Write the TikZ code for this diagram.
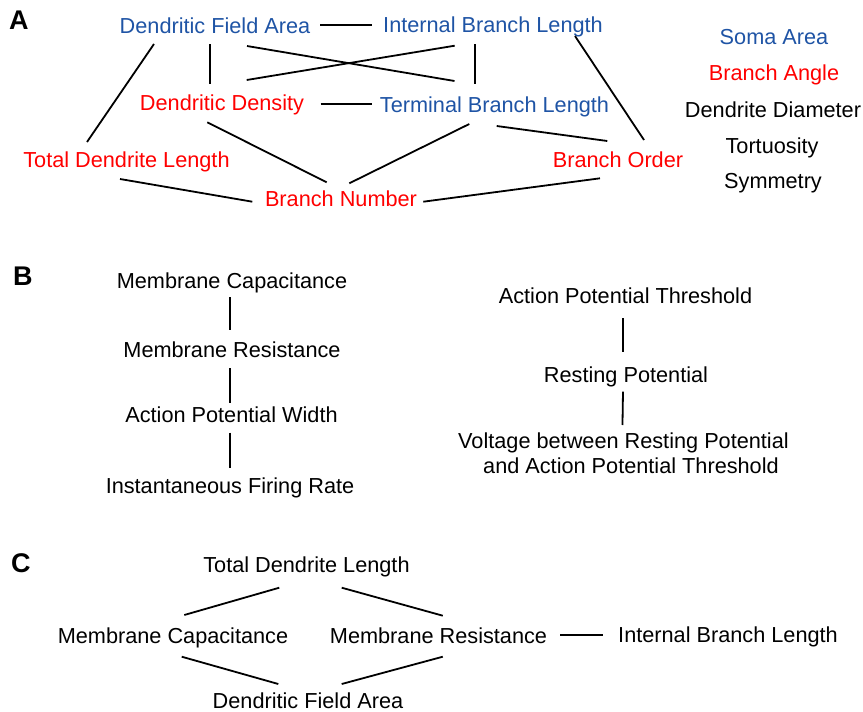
\documentclass[tikz,border=0pt]{standalone}
\usepackage{fontspec}
\setmainfont{Liberation Sans}
\definecolor{tblue}{RGB}{31,84,165}
\definecolor{tred}{RGB}{255,0,0}
\begin{document}
\begin{tikzpicture}[x=1pt,y=-1pt,
  lbl/.style={inner sep=0pt, anchor=base, font=\fontsize{21.7}{25}\selectfont},
  bl/.style={lbl,text=tblue},
  rd/.style={lbl,text=tred},
  bk/.style={lbl,text=black},
  panel/.style={inner sep=0pt, anchor=base west, font=\fontsize{27}{30}\selectfont\bfseries},
  link/.style={line width=1.8pt, black}]
\useasboundingbox (0,0) rectangle (863,712);
% ---------- Panel A ----------
\node[panel] (labA) at (9,30) {A};
\node[bl] (dfa) at (215,33) {Dendritic Field Area};
\node[bl] (ibl) at (493,32) {Internal Branch Length};
\node[bl] (soma) at (774,44) {Soma Area};
\node[rd] (angle) at (774,80) {Branch Angle};
\node[bk] (diam) at (773,117) {Dendrite Diameter};
\node[bk] (tort) at (772,153) {Tortuosity};
\node[bk] (sym) at (773,188) {Symmetry};
\node[rd] (dd) at (222,110) {Dendritic Density};
\node[bl] (tbl) at (494.5,112) {Terminal Branch Length};
\node[rd] (tdl) at (126.5,167) {Total Dendrite Length};
\node[rd] (bo) at (618,167) {Branch Order};
\node[rd] (bn) at (341,206) {Branch Number};

\draw[link] ([shift={(105,-8)}]dfa.base) -- ([shift={(-121,-7)}]ibl.base);
\draw[link] ([shift={(-61,11)}]dfa.base) -- ([shift={(-39.5,-25)}]tdl.base);
\draw[link] ([shift={(-5,11)}]dfa.base) -- ([shift={(-12,-26)}]dd.base);
\draw[link] ([shift={(32,13)}]dfa.base) -- ([shift={(-40,-31)}]tbl.base);
\draw[link] ([shift={(24.7,-30)}]dd.base) -- ([shift={(-38.3,13.7)}]ibl.base);
\draw[link] ([shift={(-18,12.3)}]ibl.base) -- ([shift={(-19.5,-28)}]tbl.base);
\draw[link] ([shift={(98.7,-5.7)}]dd.base) -- ([shift={(-122.8,-7.7)}]tbl.base);
\draw[link] ([shift={(-14.7,12.3)}]dd.base) -- ([shift={(-14.3,-23.7)}]bn.base);
\draw[link] ([shift={(8.3,-22.7)}]bn.base) -- ([shift={(-25.2,12)}]tbl.base);
\draw[link] ([shift={(2.2,14)}]tbl.base) -- ([shift={(-10.7,-26)}]bo.base);
\draw[link] ([shift={(82,4)}]ibl.base) -- ([shift={(26,-27)}]bo.base);
\draw[link] ([shift={(-6.5,12)}]tdl.base) -- ([shift={(-88.7,-4.3)}]bn.base);
\draw[link] ([shift={(82.3,-4.3)}]bn.base) -- ([shift={(-18,11.3)}]bo.base);

% ---------- Panel B ----------
\node[panel] (labB) at (13,285.5) {B};
\node[bk] (mc) at (232,288.5) {Membrane Capacitance};
\node[bk] (mr) at (232,357.5) {Membrane Resistance};
\node[bk] (apw) at (231.5,422.5) {Action Potential Width};
\node[bk] (ifr) at (230,493.5) {Instantaneous Firing Rate};
\node[bk] (apt) at (625.5,303.5) {Action Potential Threshold};
\node[bk] (rp) at (626,382.5) {Resting Potential};
\node[inner sep=0pt, anchor=north west, align=left, font=\fontsize{21.7}{25}\selectfont] (volt) at (458,432.7)
  {Voltage between Resting Potential\\\hspace*{25pt}and Action Potential Threshold};

\draw[link] ([shift={(-2,8.5)}]mc.base) -- ([shift={(-2,-27.5)}]mr.base);
\draw[link] ([shift={(-2,10.5)}]mr.base) -- ([shift={(-1.5,-19.5)}]apw.base);
\draw[link] ([shift={(-1.5,10.2)}]apw.base) -- ([shift={(0,-25.2)}]ifr.base);
\draw[link] ([shift={(-2.5,14.8)}]apt.base) -- ([shift={(-3,-30.8)}]rp.base);
\draw[link] ([shift={(-3,9.2)}]rp.base) -- ([shift={(-1,-7.7)}]volt.north);

% ---------- Panel C ----------
\node[panel] (labC) at (11,572) {C};
\node[bk] (ctdl) at (306.5,572.5) {Total Dendrite Length};
\node[bk] (cmc) at (173,643.5) {Membrane Capacitance};
\node[bk] (cmr) at (438.5,643.5) {Membrane Resistance};
\node[bk] (cibl) at (728,642) {Internal Branch Length};
\node[bk] (cdfa) at (308,708) {Dendritic Field Area};

\draw[link] ([shift={(-27.2,15.2)}]ctdl.base) -- ([shift={(11.3,-28.5)}]cmc.base);
\draw[link] ([shift={(35.2,15.2)}]ctdl.base) -- ([shift={(4.3,-27.8)}]cmr.base);
\draw[link] ([shift={(8.7,13.2)}]cmc.base) -- ([shift={(-29.7,-24)}]cdfa.base);
\draw[link] ([shift={(4.3,13.2)}]cmr.base) -- ([shift={(33.7,-24)}]cdfa.base);
\draw[link] ([shift={(121.5,-8.5)}]cmr.base) -- ([shift={(-125,-7)}]cibl.base);
\end{tikzpicture}
\end{document}
